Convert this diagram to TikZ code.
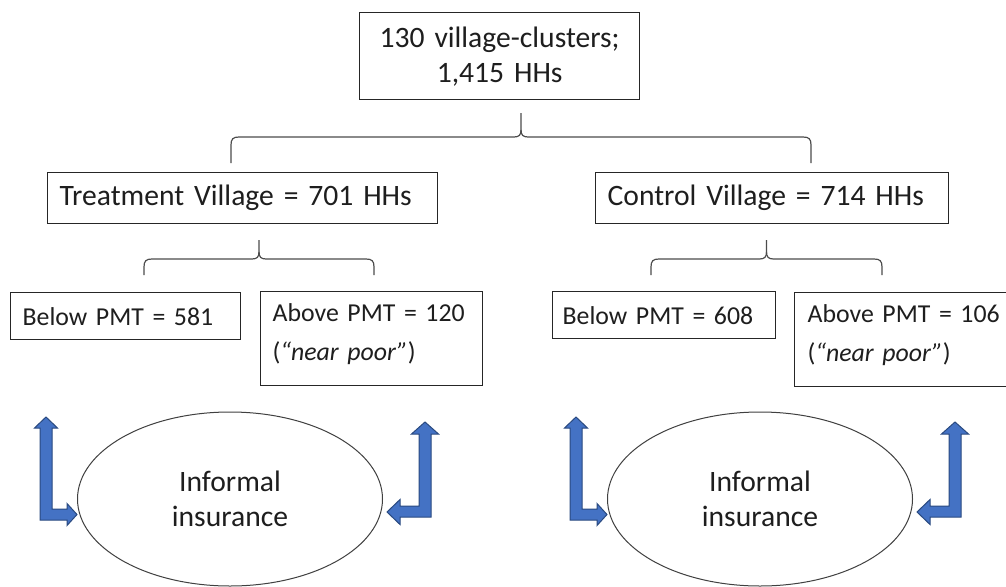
\documentclass[tikz,border=0pt]{standalone}
\usepackage{fontspec}
\setmainfont{Carlito}
\usetikzlibrary{shapes.geometric}
\definecolor{txt}{HTML}{1E1E1E}
\definecolor{arrfill}{HTML}{4472C4}
\definecolor{arrline}{HTML}{2A4A80}
\tikzset{
  box/.style={draw=black!85, line width=1.3pt, rectangle, anchor=north west,
    inner xsep=12pt, inner ysep=0pt, text=txt, align=left},
  bigfont/.style={font=\fontsize{29.6}{35}\selectfont},
  smallfont/.style={font=\fontsize{25.8}{39}\selectfont},
  oval/.style={draw=black!75, line width=1pt, ellipse, minimum width=305pt,
    minimum height=174pt, inner sep=0pt, text=txt, align=center,
    font=\fontsize{29.6}{35}\selectfont},
  bracestyle/.style={draw=black!70, line width=1.2pt},
  blockarrow/.style={fill=arrfill, draw=arrline, line width=1pt, line join=miter},
  arrowL/.pic={
    \draw[blockarrow] (46,417) -- (57.5,428) -- (52,428) -- (52,509) -- (67,509)
      -- (67,503.5) -- (77,514.5) -- (67,525.5) -- (67,520) -- (40,520)
      -- (40,428) -- (34.5,428) -- cycle;
  },
  arrowR/.pic={
    \draw[blockarrow] (425,422) -- (438.5,434) -- (431,434) -- (431,517)
      -- (400,517) -- (400,524.5) -- (387,512) -- (400,499.5) -- (400,506)
      -- (419,506) -- (419,434) -- (411.5,434) -- cycle;
  }
}
\newcommand{\hbrace}[5]{%
  \pgfmathsetmacro\bxm{(#1+#2)/2}%
  \draw[bracestyle] (#1,#3) -- (#1,#4+8) .. controls (#1,#4+2) and (#1+2,#4) .. (#1+8,#4)
    -- (\bxm-7,#4) .. controls (\bxm-2,#4) and (\bxm,#4-2) .. (\bxm,#4-7) -- (\bxm,#5);
  \draw[bracestyle] (#2,#3) -- (#2,#4+8) .. controls (#2,#4+2) and (#2-2,#4) .. (#2-8,#4)
    -- (\bxm+7,#4) .. controls (\bxm+2,#4) and (\bxm,#4-2) .. (\bxm,#4-7);
}
\begin{document}
\begin{tikzpicture}[x=1pt,y=-1pt]
\clip (0,0) rectangle (1006,586);
\fill[white] (0,0) rectangle (1006,586);

% top box
\node[box, bigfont, align=center, text width=256pt, minimum height=87pt] (top) at (359,12)
  {130 village-clusters;\\1,415 HHs};

% second level
\node[box, bigfont, text width=366pt, minimum height=51pt] (treat) at (47,172)
  {Treatment Village = 701 HHs};
\node[box, bigfont, text width=329pt, minimum height=51pt] (control) at (595,172)
  {Control Village = 714 HHs};

% third level
\node[box, smallfont, text width=206pt, minimum height=47pt] (below1) at (10,292)
  {Below PMT = 581};
\node[box, smallfont, text width=198pt, minimum height=94pt, text depth=52pt] (above1) at (260,291)
  {\mbox{Above PMT = 120}\\(\textit{“near poor”})};
\node[box, smallfont, inner xsep=10pt, text width=203pt, minimum height=47pt] (below2) at (552,291)
  {Below PMT = 608};
\node[box, smallfont, inner xsep=13pt, text width=204pt, minimum height=94pt, text depth=52pt] (above2) at (794,292)
  {\mbox{Above PMT = 106}\\(\textit{“near poor”})};

% braces
\hbrace{231}{811}{163}{137}{113}
\hbrace{144}{374}{275}{259}{240}
\hbrace{651}{882}{275}{259}{240}

% ellipses
\node[oval] (inf1) at (230,499) {Informal\\insurance};
\node[oval] (inf2) at (760,499) {Informal\\insurance};

% block arrows
\pic at (0,0) {arrowL};
\pic at (0,0) {arrowR};
\pic at (530,0) {arrowL};
\pic at (530,0) {arrowR};
\end{tikzpicture}
\end{document}
